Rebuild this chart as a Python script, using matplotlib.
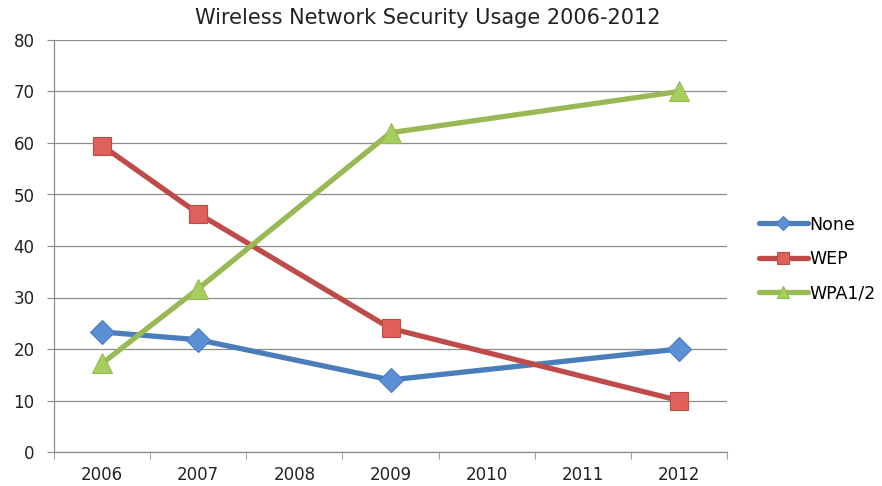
import matplotlib
matplotlib.use("Agg")
import matplotlib.pyplot as plt
import numpy as np

plt.rcParams['font.family'] = ['DejaVu Sans']

categories = ['2006', '2007', '2008', '2009', '2010', '2011', '2012']
data_years = ['2006', '2007', '2009', '2012']
none_vals = [23.3, 21.8, 14.0, 20.0]
wep_vals = [59.5, 46.3, 24.0, 10.0]
wpa_vals = [17.2, 31.7, 62.0, 70.0]

series = [
    ('None', none_vals, '#4A7EBB', '#5B8FD6', 'D', 12),
    ('WEP', wep_vals, '#BE4B48', '#E0605C', 's', 13.5),
    ('WPA1/2', wpa_vals, '#98B954', '#A6CE5E', '^', 14.5),
]

fig = plt.figure(figsize=(8.82, 4.86), dpi=100)
ax = fig.add_axes([54/882, 1-452/486, (727-54)/882, (452-40)/486])

xpos = [categories.index(y) for y in data_years]
for name, vals, lc, mc, mk, ms in series:
    ax.plot(xpos, vals, color=lc, lw=3.8, marker=mk, markersize=ms,
            markerfacecolor=mc, markeredgecolor=lc, markeredgewidth=0.8,
            label=name, solid_capstyle='round', zorder=3)

ax.set_xlim(-0.5, len(categories) - 0.5)
ax.set_ylim(0, 80)
ax.set_yticks(np.arange(0, 81, 10))
ax.set_xticks(range(len(categories)))
ax.set_xticklabels(categories)
ax.set_xticks(np.arange(-0.5, len(categories), 1), minor=True)
ax.tick_params(axis='x', which='major', length=0, pad=10, labelsize=12, colors='#222222')
ax.tick_params(axis='x', which='minor', length=5, color='#8C8C8C')
ax.tick_params(axis='y', length=5, color='#8C8C8C', labelsize=12, labelcolor='#222222', pad=9)
ax.yaxis.grid(True, color='#8C8C8C', lw=0.9)
ax.set_axisbelow(True)
for s in ['top', 'right']:
    ax.spines[s].set_visible(False)
for s in ['left', 'bottom']:
    ax.spines[s].set_color('#8C8C8C')
    ax.spines[s].set_linewidth(0.9)

fig.text(428/882, 1-18/486, 'Wireless Network Security Usage 2006-2012',
         ha='center', va='center', fontsize=15, color='#222222')

leg = ax.legend(loc='center left', bbox_to_anchor=(752/882, 1-259/486),
                bbox_transform=fig.transFigure, frameon=False, fontsize=12.5,
                handlelength=2.8, handletextpad=0.1, labelspacing=0.95,
                borderaxespad=0, markerscale=0.6)

fig.savefig('out.png', dpi=100)
